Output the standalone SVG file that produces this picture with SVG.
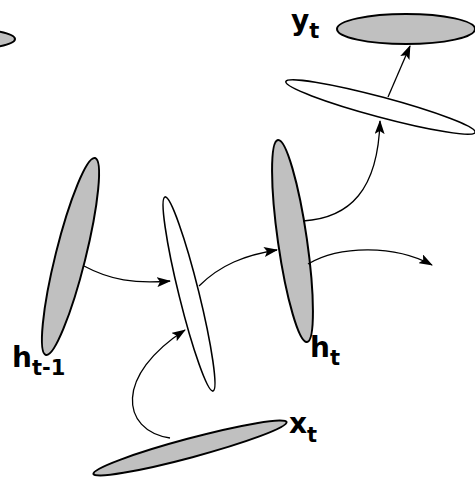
<svg xmlns="http://www.w3.org/2000/svg" width="475" height="483" viewBox="0 0 475 483">
<style>
.g{fill:#c0c0c0;stroke:#000;stroke-width:2}
.w{fill:#fff;stroke:#000;stroke-width:1.6}
.c{fill:none;stroke:#000;stroke-width:1.3;marker-end:url(#ah)}
.lb{font-family:"DejaVu Sans",Verdana,sans-serif;font-weight:bold;font-size:28px;fill:#000}
.sb{font-size:21px}
</style>
<defs>
<marker id="ah" markerUnits="userSpaceOnUse" markerWidth="14" markerHeight="10" refX="13" refY="5" orient="auto">
<path d="M0,0 L14,5 L0,10 L3,5 Z" fill="#000"/>
</marker>
</defs>
<g id="prev-y"><ellipse class="g" cx="-45" cy="39" rx="60" ry="11"/></g>
<g id="y_t"><ellipse class="g" cx="406" cy="29" rx="69" ry="15"/>
<text class="lb" x="291" y="30">y<tspan class="sb" dy="8">t</tspan></text></g>
<g id="out"><ellipse class="w" cx="380.5" cy="107" rx="98" ry="10" transform="rotate(15 380.5 107)"/></g>
<g id="h_prev"><ellipse class="g" cx="70.5" cy="256.5" rx="15" ry="101.5" transform="rotate(14 70.5 256.5)"/>
<text class="lb" x="12" y="367">h<tspan class="sb" dy="8">t-1</tspan></text></g>
<g id="mid"><ellipse class="w" cx="189" cy="294" rx="10" ry="100" transform="rotate(-13.9 189 294)"/></g>
<g id="h_t"><ellipse class="g" cx="292.5" cy="241" rx="14.5" ry="102" transform="rotate(-8.2 292.5 241)"/>
<text class="lb" x="310" y="357">h<tspan class="sb" dy="8">t</tspan></text></g>
<g id="x_t"><ellipse class="g" cx="190" cy="448" rx="100" ry="9.5" transform="rotate(-15 190 448)"/>
<text class="lb" x="289" y="433">x<tspan class="sb" dy="9">t</tspan></text></g>
<g id="connectors">
<path class="c" d="M388,97 L410,46"/>
<path class="c" d="M303,221 C350,218 378,190 380,121"/>
<path class="c" d="M84,266 C110,280 135,284 170,281"/>
<path class="c" d="M199,286 C220,265 245,255 277,250"/>
<path class="c" d="M308,264 C340,245 395,245 432,265"/>
<path class="c" d="M170,438 C120,430 115,375 185,330"/>
</g>
</svg>
